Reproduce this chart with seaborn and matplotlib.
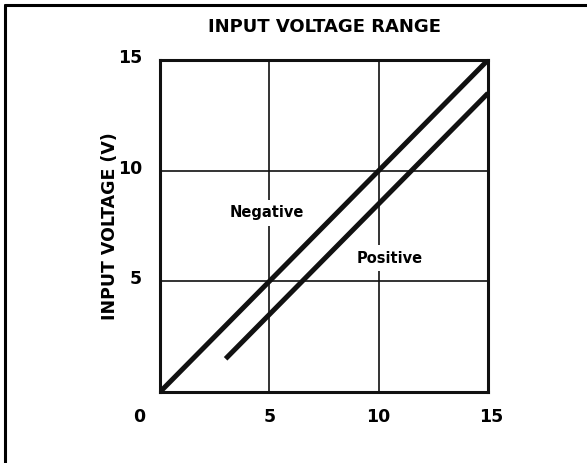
import matplotlib
matplotlib.use("Agg")
import matplotlib.pyplot as plt
import matplotlib.transforms as mtransforms
from matplotlib.lines import Line2D
import seaborn as sns
import pandas as pd

# data
neg_x = [0, 15]
neg_y = [0, 15]
pos_x = [3, 15]
pos_y = [1.5, 13.5]
x_ticks = [0, 5, 10, 15]
y_ticks = [5, 10, 15]

sns.set_style("white")
plt.rcParams["font.family"] = ["DejaVu Sans"]
plt.rcParams["font.weight"] = "bold"
plt.rcParams["text.color"] = "black"
plt.rcParams["axes.labelcolor"] = "black"

df = pd.concat([
    pd.DataFrame({"x": neg_x, "y": neg_y, "s": "Negative"}),
    pd.DataFrame({"x": pos_x, "y": pos_y, "s": "Positive"}),
])

fig = plt.figure(figsize=(5.87, 4.63), dpi=100)
ax = fig.add_axes([160 / 587, 1 - 392 / 463, 328 / 587, 332 / 463])

sns.lineplot(data=df, x="x", y="y", units="s", estimator=None,
             color="#111111", linewidth=3.6, solid_capstyle="butt",
             legend=False, ax=ax, zorder=3)

ax.set_xlim(0, 15)
ax.set_ylim(0, 15)
ax.set_xticks(x_ticks)
ax.set_yticks([0] + y_ticks)
ax.set_xticklabels([])
ax.set_yticklabels([])
ax.tick_params(length=0)
ax.grid(True, color="#111111", linewidth=1.2)
for sp in ax.spines.values():
    sp.set_linewidth(2.2)
    sp.set_color("#111111")
ax.set_xlabel("")
ax.set_ylabel("INPUT VOLTAGE (V)", fontsize=12.5, fontweight="bold",
              color="black", labelpad=26)

# tick labels, placed like the hand-lettered original
xt = ax.get_xaxis_transform()
x_shift = {0: -21, 15: 3}
for v in x_ticks:
    tr = mtransforms.offset_copy(xt, fig=fig, x=x_shift.get(v, 0), y=-25, units="dots")
    ax.text(v, 0, str(v), transform=tr, ha="center", va="center",
            fontsize=12.5, fontweight="bold", color="black")
yt = ax.get_yaxis_transform()
for v in y_ticks:
    tr = mtransforms.offset_copy(yt, fig=fig, x=-18, y=2, units="dots")
    ax.text(0, v, str(v), transform=tr, ha="right", va="center",
            fontsize=12.5, fontweight="bold", color="black")

box = dict(facecolor="white", edgecolor="none", pad=4)
ax.text(4.9, 8.1, "Negative", ha="center", va="center", fontsize=10.5,
        fontweight="bold", color="black", bbox=box, zorder=4)
ax.text(10.5, 6.05, "Positive", ha="center", va="center", fontsize=10.5,
        fontweight="bold", color="black", bbox=box, zorder=4)

ax.set_title("INPUT VOLTAGE RANGE", fontsize=13, fontweight="bold",
             color="black", pad=20)

# outer frame of the datasheet figure (left and top edges)
fig.add_artist(Line2D([5 / 587, 5 / 587], [0, 1 - 5 / 463], color="black", linewidth=2.2))
fig.add_artist(Line2D([5 / 587, 1], [1 - 5 / 463, 1 - 5 / 463], color="black", linewidth=2.2))

fig.savefig("out.png", dpi=100)
